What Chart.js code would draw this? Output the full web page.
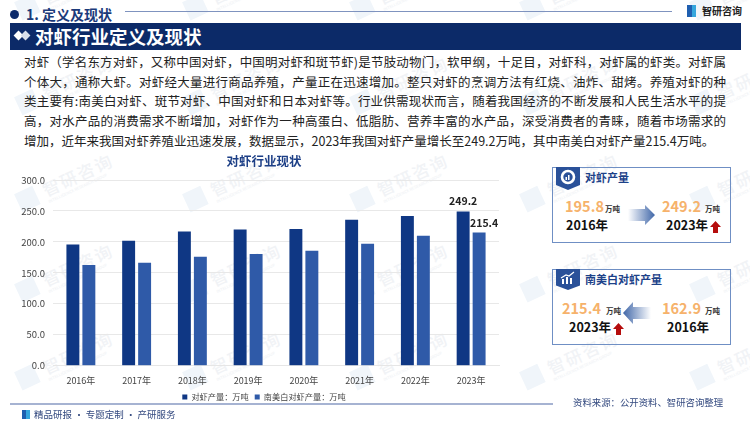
<!DOCTYPE html>
<html lang="zh">
<head>
<meta charset="utf-8">
<title>对虾行业定义及现状</title>
<script src="https://cdn.jsdelivr.net/npm/chart.js@4"></script>
<style>
  html, body { margin: 0; padding: 0; background: #fff; }
  body { width: 750px; height: 422px; position: relative; overflow: hidden; font-family: "Noto Sans CJK SC", "Noto Sans", sans-serif; color: #222; }
  .abs { position: absolute; white-space: nowrap; line-height: 1; }
  .wm { position: absolute; width: 110px; height: 40px; transform: rotate(-25deg); transform-origin: left center; color: #f1f3f6; font-size: 17px; font-weight: 500; letter-spacing: 2px; }
  .wm i { position: absolute; left: 0; top: 6px; width: 20px; height: 20px; background: #f0f5fa; }
  .wm span { position: absolute; left: 28px; top: 2px; }
  .wm em { position: absolute; left: 28px; top: 24px; font-size: 4px; font-style: normal; letter-spacing: 0; }
  .para { position: absolute; left: 24px; width: 702px; font-size: 12.5px; line-height: 1; color: #222; text-align: justify; text-align-last: justify; white-space: nowrap; }
  .panel { position: absolute; left: 552px; width: 177px; height: 74px; border: 1px solid #6f8fc4; }
  .tag { position: absolute; left: 556px; width: 24px; background: #2a5199; clip-path: polygon(0 0, 100% 0, 100% 78%, 50% 100%, 0 78%); }
  .ptitle { font-size: 11px; font-weight: 700; color: #1d4289; }
  .num { font-size: 14.5px; font-weight: 700; color: #f6b26b; }
  .unit { font-size: 7.5px; font-weight: 700; color: #333; }
  .yr { font-size: 12.5px; font-weight: 700; color: #111; }
</style>
</head>
<body>
<div id="marks"></div>

<!-- 顶部标题 -->
<div class="abs" style="left:10px;top:10px;width:9px;height:9px;border-radius:50%;background:#0c2a6b"></div>
<div class="abs" style="left:26px;top:7px;font-size:14px;font-weight:700;color:#1b3a7a">1. 定义及现状</div>
<div class="abs" style="left:125px;top:11px;width:547px;height:1px;background:#7f93bf"></div>
<div class="abs" style="left:687px;top:5px;width:9px;height:12px;background:linear-gradient(90deg,#1f5fb0 50%,#35a6dd 50%)"></div>
<div class="abs" style="left:702px;top:6px;font-size:10px;font-weight:700;color:#222">智研咨询</div>
<div class="abs" style="left:10px;top:23px;width:731px;height:27px;background:#0c2a68"></div>
<div class="abs" style="left:15px;top:32px;width:7px;height:7px;background:#fff;transform:rotate(45deg)"></div>
<div class="abs" style="left:22px;top:32px;width:7px;height:7px;background:#d9dfea;transform:rotate(45deg)"></div>
<div class="abs" style="left:35px;top:27px;font-size:18.5px;font-weight:700;color:#fff">对虾行业定义及现状</div>

<!-- 正文 -->
<div class="para" style="top:56px">对虾（学名东方对虾，又称中国对虾，中国明对虾和斑节虾)是节肢动物门，软甲纲，十足目，对虾科，对虾属的虾类。对虾属</div>
<div class="para" style="top:76px">个体大，通称大虾。对虾经大量进行商品养殖，产量正在迅速增加。整只对虾的烹调方法有红烧、油炸、甜烤。养殖对虾的种</div>
<div class="para" style="top:95px">类主要有:南美白对虾、斑节对虾、中国对虾和日本对虾等。行业供需现状而言，随着我国经济的不断发展和人民生活水平的提</div>
<div class="para" style="top:115px">高，对水产品的消费需求不断增加，对虾作为一种高蛋白、低脂肪、营养丰富的水产品，深受消费者的青睐，随着市场需求的</div>
<div class="para" style="top:135px;width:688px">增加，近年来我国对虾养殖业迅速发展，数据显示，2023年我国对虾产量增长至249.2万吨，其中南美白对虾产量215.4万吨。</div>

<!-- 图表 -->
<div style="position:absolute;left:0;top:150px;width:530px;height:261px"><canvas id="shrimpChart" width="530" height="261"></canvas></div>

<!-- 右侧卡片一 -->
<div class="panel" style="top:167px"></div>
<div class="tag" style="top:167px;height:23px"></div>
<svg class="abs" style="left:560px;top:169px" width="16" height="16" viewBox="0 0 16 16"><circle cx="8" cy="8" r="6" fill="none" stroke="#fff" stroke-width="2.6"/><rect x="5.5" y="8" width="1.5" height="3" fill="#fff"/><rect x="8" y="6" width="1.5" height="5" fill="#fff"/></svg>
<div class="abs ptitle" style="left:585px;top:172px">对虾产量</div>
<div class="abs num" style="left:565px;top:199px">195.8</div>
<div class="abs unit" style="left:605px;top:205px">万吨</div>
<div class="abs yr" style="left:566px;top:219px">2016年</div>
<svg class="abs" style="left:628px;top:205px" width="28" height="20" viewBox="0 0 28 20"><defs><linearGradient id="ga" x1="0" x2="1" y1="0" y2="0"><stop offset="0" stop-color="#fff"/><stop offset="1" stop-color="#3f66a8"/></linearGradient></defs><path d="M0 4H17V0L27 10L17 20V16H0Z" fill="url(#ga)"/></svg>
<div class="abs num" style="left:662px;top:199px">249.2</div>
<div class="abs unit" style="left:705px;top:205px">万吨</div>
<div class="abs yr" style="left:666px;top:219px">2023年</div>
<svg class="abs" style="left:710px;top:221px" width="11" height="12" viewBox="0 0 11 12"><path d="M5.5 0L11 6H8V12H3V6H0Z" fill="#b50d0d"/></svg>

<!-- 右侧卡片二 -->
<div class="panel" style="top:269px"></div>
<div class="tag" style="top:269px;height:21px"></div>
<svg class="abs" style="left:560px;top:271px" width="16" height="13" viewBox="0 0 16 13"><path d="M1 7L6 4L9 5L14 1" fill="none" stroke="#fff" stroke-width="1.2"/><rect x="2" y="8" width="2" height="5" fill="#fff"/><rect x="6" y="6" width="2" height="7" fill="#fff"/><rect x="10" y="7" width="2" height="6" fill="#fff"/></svg>
<div class="abs ptitle" style="left:585px;top:274px">南美白对虾产量</div>
<div class="abs num" style="left:562px;top:301px">215.4</div>
<div class="abs unit" style="left:606px;top:307px">万吨</div>
<div class="abs yr" style="left:569px;top:321px">2023年</div>
<svg class="abs" style="left:613px;top:323px" width="11" height="12" viewBox="0 0 11 12"><path d="M5.5 0L11 6H8V12H3V6H0Z" fill="#b50d0d"/></svg>
<svg class="abs" style="left:623px;top:302px" width="28" height="22" viewBox="0 0 28 22"><defs><linearGradient id="gb" x1="1" x2="0" y1="0" y2="0"><stop offset="0" stop-color="#fff"/><stop offset="1" stop-color="#3f66a8"/></linearGradient></defs><path d="M28 5H10V0L0 11L10 22V17H28Z" fill="url(#gb)"/></svg>
<div class="abs num" style="left:662px;top:301px">162.9</div>
<div class="abs unit" style="left:705px;top:307px">万吨</div>
<div class="abs yr" style="left:667px;top:321px">2016年</div>

<!-- 底部 -->
<div class="abs" style="left:10px;top:403px;width:543px;height:2px;background:#a6b3d2"></div>
<div class="abs" style="left:22px;top:410px;width:8px;height:9px;background:linear-gradient(90deg,#1f5fb0 50%,#35a6dd 50%)"></div>
<div class="abs" style="left:34px;top:410px;font-size:9.5px;color:#33497f">精品研报 · 专题定制 · 产研服务</div>
<div class="abs" style="left:573px;top:398px;font-size:9.4px;color:#33497f">资料来源：公开资料、智研咨询整理</div>

<script>
const years = ['2016年', '2017年', '2018年', '2019年', '2020年', '2021年', '2022年', '2023年'];
const shrimpOutput = [195.8, 202, 217, 220, 221, 236, 242, 249.2];
const whiteShrimpOutput = [162.9, 166.5, 176, 180.6, 185.6, 197, 210, 215.4];
const seriesNames = ['对虾产量：万吨', '南美白对虾产量：万吨'];
const chartTitle = '对虾行业现状';

// 背景水印
const wmX = [20, 188, 355, 525, 695];
const wmY = [15, 110, 207, 297, 385];
const marks = document.getElementById('marks');
wmY.forEach(y => wmX.forEach(x => {
  const d = document.createElement('div');
  d.className = 'wm';
  d.style.left = x + 'px';
  d.style.top = (y - 20) + 'px';
  d.innerHTML = '<i></i><span>智研咨询</span><em>INTELLIGENCE RESEARCH GROUP</em>';
  marks.appendChild(d);
}));

// 只标最后一年的数值
const lastLabels = {
  id: 'lastLabels',
  afterDatasetsDraw(chart) {
    const { ctx } = chart;
    const last = years.length - 1;
    ctx.save();
    ctx.font = '700 10.5px "Noto Sans CJK SC", sans-serif';
    ctx.fillStyle = '#222';
    ctx.textAlign = 'center';
    ctx.textBaseline = 'bottom';
    chart.data.datasets.forEach((ds, i) => {
      const bar = chart.getDatasetMeta(i).data[last];
      ctx.fillText(ds.data[last].toFixed(1), bar.x + (i ? 5 : 0), bar.y - (i ? 4 : 5));
    });
    ctx.restore();
  }
};

// 轴的尺寸是手动定的，标签不要被裁掉
const fixAxis = (scale, prop, size) => {
  scale[prop] = size;
  scale._computeLabelArea = () => undefined;
};

new Chart(document.getElementById('shrimpChart'), {
  type: 'bar',
  data: {
    labels: years,
    datasets: [
      { label: seriesNames[0], data: shrimpOutput, backgroundColor: '#0f3784', barPercentage: 0.81, categoryPercentage: 0.573 },
      { label: seriesNames[1], data: whiteShrimpOutput, backgroundColor: '#2f5aa8', barPercentage: 0.81, categoryPercentage: 0.573 }
    ]
  },
  options: {
    responsive: false,
    animation: false,
    layout: { padding: { left: 29, right: 31, top: 0, bottom: 0 } },
    scales: {
      x: {
        afterFit(scale) { fixAxis(scale, 'height', 21); },
        grid: { display: false, drawTicks: false },
        border: { color: '#e6e6e6' },
        ticks: { color: '#444', font: { size: 9, family: '"Noto Sans CJK SC"' }, padding: 9 }
      },
      y: {
        min: 0, max: 300,
        afterFit(scale) { fixAxis(scale, 'width', 24); },
        grid: { color: '#e8e8e8', drawTicks: false },
        border: { display: false },
        ticks: { stepSize: 50, color: '#444', padding: 8, font: { size: 9.5, family: '"Noto Sans CJK SC"' }, callback: v => v.toFixed(1) }
      }
    },
    plugins: {
      title: {
        display: true, text: chartTitle, color: '#1d3f86',
        font: { size: 12.5, weight: '700', family: '"Noto Sans CJK SC"' },
        padding: { top: 4, bottom: 11 }
      },
      legend: {
        position: 'bottom',
        labels: { boxWidth: 5, boxHeight: 5, color: '#444', padding: 6, font: { size: 8.2, family: '"Noto Sans CJK SC"' } }
      },
      tooltip: { enabled: false }
    }
  },
  plugins: [lastLabels]
});
</script>
</body>
</html>
